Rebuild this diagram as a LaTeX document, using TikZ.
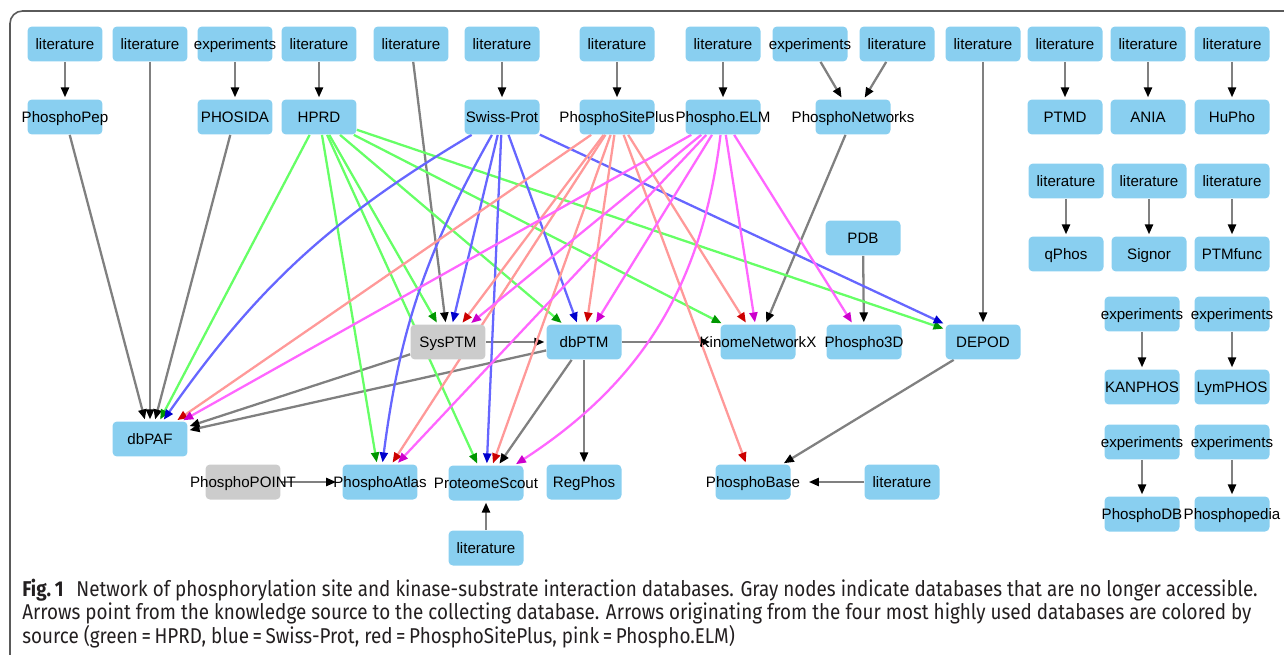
\documentclass[tikz,border=0pt]{standalone}
\usepackage{fontspec}
\setmainfont{Liberation Sans}
\newfontfamily\capfont[FakeStretch=0.88]{Fira Sans}
\usetikzlibrary{arrows.meta,backgrounds}

\definecolor{dbblue}{RGB}{137,207,240}
\definecolor{dbgray}{RGB}{204,204,204}
\definecolor{hprdline}{RGB}{102,255,102}
\definecolor{hprdtip}{RGB}{0,150,0}
\definecolor{swissline}{RGB}{102,102,255}
\definecolor{swisstip}{RGB}{0,0,204}
\definecolor{pspline}{RGB}{255,153,153}
\definecolor{psptip}{RGB}{204,0,0}
\definecolor{elmline}{RGB}{255,102,255}
\definecolor{elmtip}{RGB}{204,0,204}
\definecolor{linkgray}{RGB}{128,128,128}
\definecolor{framegray}{RGB}{90,90,90}
\definecolor{captext}{RGB}{35,31,32}

\tikzset{
  db/.style={rectangle, rounded corners=2.5pt, fill=dbblue, minimum width=1.5cm,
    minimum height=0.7cm, inner sep=0pt, text height=6.2pt, text depth=0pt,
    font=\fontsize{8.6}{10}\selectfont,
    execute at begin node={\hbox to 0pt\bgroup\hss}, execute at end node={\hss\egroup}},
  gone/.style={db, fill=dbgray},
  link/.style={line width=1.3pt, shorten >=1pt},
  grayarc/.style={link, draw=linkgray, -{Triangle[length=2mm,width=1.6mm,color=black]}},
  hprdarc/.style={link, draw=hprdline, -{Triangle[length=2mm,width=1.6mm,color=hprdtip]}},
  swissarc/.style={link, draw=swissline, -{Triangle[length=2mm,width=1.6mm,color=swisstip]}},
  psparc/.style={link, draw=pspline, -{Triangle[length=2mm,width=1.6mm,color=psptip]}},
  elmarc/.style={link, draw=elmline, -{Triangle[length=2mm,width=1.6mm,color=elmtip]}},
  capline/.style={anchor=base west, inner sep=0pt, text=captext, font=\capfont\fontsize{12.2}{14}\selectfont}
}

\begin{document}
\begin{tikzpicture}[x=0.02cm, y=0.02cm]
  \useasboundingbox (0,0) rectangle (1284,-655);

  % fuentes (fila superior)
  \node[db] (lit-pep) at (65,-44) {literature};
  \node[db] (lit-paf) at (150,-44) {literature};
  \node[db] (exp-phosida) at (235,-44) {experiments};
  \node[db] (lit-hprd) at (319,-44) {literature};
  \node[db] (lit-sysptm) at (411,-44) {literature};
  \node[db] (lit-swiss) at (502,-44) {literature};
  \node[db] (lit-psp) at (617,-44) {literature};
  \node[db] (lit-elm) at (723,-44) {literature};
  \node[db] (exp-pnet) at (810,-44) {experiments};
  \node[db] (lit-pnet) at (897,-44) {literature};
  \node[db] (lit-depod) at (983,-44) {literature};
  \node[db] (lit-ptmd) at (1065,-44) {literature};
  \node[db] (lit-ania) at (1148,-44) {literature};
  \node[db] (lit-hupho) at (1232,-44) {literature};

  % bases de datos (segunda fila)
  \node[db] (phosphopep) at (65,-117) {PhosphoPep};
  \node[db] (phosida) at (235,-117) {PHOSIDA};
  \node[db] (hprd) at (319,-117) {HPRD};
  \node[db] (swissprot) at (502,-117) {Swiss-Prot};
  \node[db] (psp) at (617,-117) {PhosphoSitePlus};
  \node[db] (elm) at (723,-117) {Phospho.ELM};
  \node[db] (pnet) at (853,-117) {PhosphoNetworks};
  \node[db] (ptmd) at (1065,-117) {PTMD};
  \node[db] (ania) at (1148,-117) {ANIA};
  \node[db] (hupho) at (1232,-117) {HuPho};

  % bloque derecho
  \node[db] (lit-qphos) at (1066,-181) {literature};
  \node[db] (lit-signor) at (1149,-181) {literature};
  \node[db] (lit-ptmfunc) at (1232,-181) {literature};
  \node[db] (qphos) at (1066,-254) {qPhos};
  \node[db] (signor) at (1149,-254) {Signor};
  \node[db] (ptmfunc) at (1232,-254) {PTMfunc};
  \node[db] (exp-kanphos) at (1142,-314) {experiments};
  \node[db] (exp-lymphos) at (1232,-314) {experiments};
  \node[db] (kanphos) at (1142,-387) {KANPHOS};
  \node[db] (lymphos) at (1232,-387) {LymPHOS};
  \node[db] (exp-phosphodb) at (1142,-442) {experiments};
  \node[db] (exp-phosphopedia) at (1232,-442) {experiments};
  \node[db] (phosphodb) at (1142,-514) {PhosphoDB};
  \node[db] (phosphopedia) at (1232,-514) {Phosphopedia};

  % fila central
  \node[db] (pdb) at (863,-238) {PDB};
  \node[gone] (sysptm) at (448,-342) {SysPTM};
  \node[db] (dbptm) at (584,-342) {dbPTM};
  \node[db] (kinome) at (758,-342) {KinomeNetworkX};
  \node[db] (phospho3d) at (864,-342) {Phospho3D};
  \node[db] (depod) at (983,-342) {DEPOD};
  \node[db] (dbpaf) at (150,-439) {dbPAF};

  % fila inferior
  \node[gone] (phosphopoint) at (243,-482) {PhosphoPOINT};
  \node[db] (phosphoatlas) at (380,-482) {PhosphoAtlas};
  \node[db] (pscout) at (486,-483) {ProteomeScout};
  \node[db] (regphos) at (584,-482) {RegPhos};
  \node[db] (phosphobase) at (753,-482) {PhosphoBase};
  \node[db] (lit-pbase) at (902,-482) {literature};
  \node[db] (lit-pscout) at (486,-548) {literature};

  % pie de figura
  \node[capline] (cap1) at (22,-596) {{\bfseries Fig.\,1}\hspace{0.6em}Network of phosphorylation site and kinase-substrate interaction databases. Gray nodes indicate databases that are no longer accessible.};
  \node[capline] (cap2) at (22,-619) {Arrows point from the knowledge source to the collecting database. Arrows originating from the four most highly used databases are colored by};
  \node[capline] (cap3) at (22,-643) {source (green\,=\,HPRD, blue\,=\,Swiss-Prot, red\,=\,PhosphoSitePlus, pink\,=\,Phospho.ELM)};

  \begin{scope}[on background layer]
    % marco
    \draw[framegray, line width=0.9pt, rounded corners=0.25cm] (10,-11) rectangle (1320,-700);

    % enlaces grises
    \draw[grayarc] (lit-pep) -- (phosphopep);
    \draw[grayarc] (exp-phosida) -- (phosida);
    \draw[grayarc] (lit-hprd) -- (hprd);
    \draw[grayarc] (lit-swiss) -- (swissprot);
    \draw[grayarc] (lit-psp) -- (psp);
    \draw[grayarc] (lit-elm) -- (elm);
    \draw[grayarc] (exp-pnet) -- (pnet);
    \draw[grayarc] (lit-pnet) -- (pnet);
    \draw[grayarc] (lit-ptmd) -- (ptmd);
    \draw[grayarc] (lit-ania) -- (ania);
    \draw[grayarc] (lit-hupho) -- (hupho);
    \draw[grayarc] (lit-qphos) -- (qphos);
    \draw[grayarc] (lit-signor) -- (signor);
    \draw[grayarc] (lit-ptmfunc) -- (ptmfunc);
    \draw[grayarc] (exp-kanphos) -- (kanphos);
    \draw[grayarc] (exp-lymphos) -- (lymphos);
    \draw[grayarc] (exp-phosphodb) -- (phosphodb);
    \draw[grayarc] (exp-phosphopedia) -- (phosphopedia);
    \draw[grayarc] (lit-depod) -- (depod);
    \draw[grayarc] (lit-paf) -- (dbpaf);
    \draw[grayarc] (phosphopep) -- (dbpaf);
    \draw[grayarc] (phosida) -- (dbpaf);
    \draw[grayarc] (lit-sysptm) -- (sysptm);
    \draw[grayarc] (pnet) -- (kinome);
    \draw[grayarc] (pdb) -- (phospho3d);
    \draw[grayarc] (sysptm) -- (dbptm);
    \draw[grayarc] (sysptm) -- (dbpaf);
    \draw[grayarc] (dbptm) -- (dbpaf);
    \draw[grayarc, shorten >=0.2cm] (dbptm) -- (kinome.west);
    \draw[grayarc] (dbptm) -- (pscout);
    \draw[grayarc] (dbptm) -- (regphos);
    \draw[grayarc] (depod) -- (phosphobase);
    \draw[grayarc, shorten >=0.36cm] (lit-pbase) -- (phosphobase.east);
    \draw[grayarc, shorten >=0.12cm] (phosphopoint) -- (phosphoatlas.west);
    \draw[grayarc] (lit-pscout) -- (pscout);

    % HPRD (verde)
    \draw[hprdarc] (hprd) -- (dbpaf);
    \draw[hprdarc] (hprd) -- (sysptm);
    \draw[hprdarc] (hprd) -- (phosphoatlas);
    \draw[hprdarc] (hprd) -- (pscout);
    \draw[hprdarc] (hprd) -- (dbptm);
    \draw[hprdarc] (hprd) -- (kinome);
    \draw[hprdarc] (hprd) -- (depod);

    % Swiss-Prot (azul)
    \draw[swissarc] (swissprot) to[bend right=12] (dbpaf);
    \draw[swissarc] (swissprot) -- (sysptm);
    \draw[swissarc] (swissprot) to[bend right=11] (phosphoatlas);
    \draw[swissarc] (swissprot) -- (pscout);
    \draw[swissarc] (swissprot) -- (dbptm);
    \draw[swissarc] (swissprot) -- (depod);

    % PhosphoSitePlus (rojo)
    \draw[psparc] (psp) -- (dbpaf);
    \draw[psparc] (psp) -- (sysptm);
    \draw[psparc] (psp) -- (phosphoatlas);
    \draw[psparc] (psp) -- (pscout);
    \draw[psparc] (psp) -- (dbptm);
    \draw[psparc] (psp) -- (kinome);
    \draw[psparc] (psp) -- (phosphobase);

    % Phospho.ELM (rosa)
    \draw[elmarc] (elm) -- (dbpaf);
    \draw[elmarc] (elm) -- (sysptm);
    \draw[elmarc] (elm) -- (phosphoatlas);
    \draw[elmarc] (elm) to[bend left=25] (pscout);
    \draw[elmarc] (elm) -- (dbptm);
    \draw[elmarc] (elm) -- (kinome);
    \draw[elmarc] (elm) -- (phospho3d);
  \end{scope}
\end{tikzpicture}
\end{document}
